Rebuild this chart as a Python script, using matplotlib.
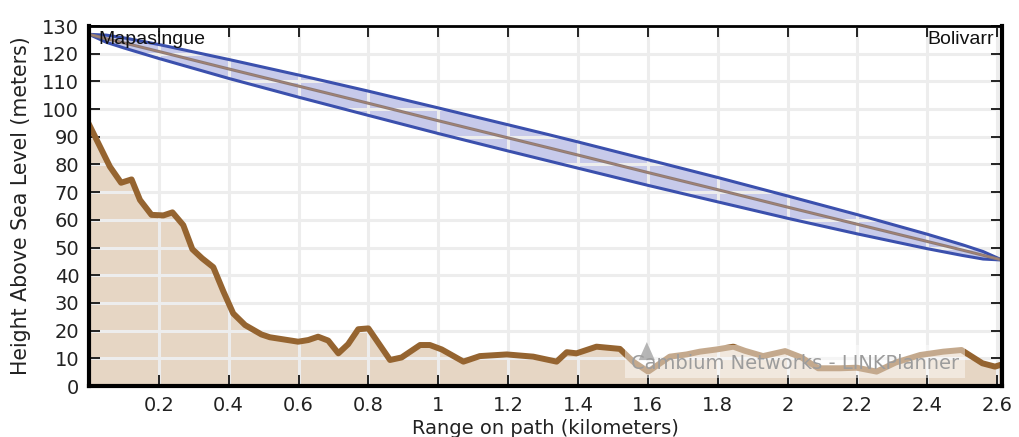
import matplotlib
matplotlib.use("Agg")
import matplotlib.pyplot as plt
from matplotlib.patches import Rectangle, Polygon

# ---- data ----
terrain_km = [0.000, 0.060, 0.092, 0.122, 0.146, 0.179, 0.213, 0.239, 0.270, 0.296,
              0.324, 0.356, 0.385, 0.413, 0.447, 0.494, 0.518, 0.599, 0.628, 0.656,
              0.685, 0.714, 0.742, 0.771, 0.800, 0.862, 0.895, 0.948, 0.976, 1.010,
              1.072, 1.119, 1.196, 1.272, 1.339, 1.368, 1.396, 1.453, 1.520, 1.558,
              1.601, 1.663, 1.711, 1.749, 1.797, 1.845, 1.878, 1.930, 1.993, 2.040,
              2.088, 2.150, 2.198, 2.255, 2.310, 2.380, 2.446, 2.498, 2.558, 2.594,
              2.614]
terrain_m = [94.5, 79.2, 73.4, 74.6, 67.2, 61.8, 61.6, 62.7, 58.1, 49.4,
             46.1, 42.9, 34.1, 26.2, 22.0, 18.6, 17.6, 16.0, 16.6, 17.8,
             16.4, 11.8, 15.1, 20.5, 20.8, 9.4, 10.3, 14.8, 14.8, 13.2,
             8.8, 10.8, 11.4, 10.6, 8.8, 12.2, 11.8, 14.2, 13.4, 8.8,
             5.2, 10.6, 11.4, 12.4, 13.2, 14.2, 12.7, 10.8, 12.6, 10.3,
             6.4, 6.4, 6.6, 5.2, 8.5, 11.2, 12.4, 13.0, 8.2, 7.0,
             7.8]

path_km = [0.0, 0.05, 0.1, 0.2, 0.4, 0.6, 0.8, 1.0, 1.2, 1.307, 1.4, 1.6, 1.8,
           2.0, 2.2, 2.4, 2.5, 2.56, 2.614]
los_m = [127.0, 125.4, 123.9, 120.8, 114.5, 108.3, 102.1, 95.8, 89.6, 86.3, 83.4,
         77.1, 70.9, 64.6, 58.4, 52.2, 49.1, 47.2, 45.5]
fresnel_half_m = [0.0, 1.30, 1.82, 2.52, 3.42, 4.00, 4.38, 4.62, 4.73, 4.75, 4.74,
                  4.63, 4.40, 4.03, 3.47, 2.61, 1.94, 1.35, 0.0]

site_left = "Mapasingue"
site_right = "Bolivarr"
x_ticks = [0.2, 0.4, 0.6, 0.8, 1.0, 1.2, 1.4, 1.6, 1.8, 2.0, 2.2, 2.4, 2.6]
x_ticklabels = ["0.2", "0.4", "0.6", "0.8", "1", "1.2", "1.4", "1.6", "1.8", "2",
                "2.2", "2.4", "2.6"]
y_ticks = list(range(0, 131, 10))

# ---- figure ----
fig = plt.figure(figsize=(10.19, 4.37), dpi=100)
ax = fig.add_axes([0.0873, 0.1167, 0.8960, 0.8238])

x_max = path_km[-1]
ax.set_xlim(0, x_max)
ax.set_ylim(0, 130)

# terrain
ax.fill_between(terrain_km, 0, terrain_m, color="#e6d6c4", zorder=1, linewidth=0)

# fresnel zone
upper = [l + f for l, f in zip(los_m, fresnel_half_m)]
lower = [l - f for l, f in zip(los_m, fresnel_half_m)]
ax.fill_between(path_km, lower, upper, color="#c7caea", zorder=1, linewidth=0)

# grid on top of fills
ax.set_xticks(x_ticks)
ax.set_yticks(y_ticks)
ax.grid(True, color="#ededed", linewidth=2.2, zorder=2)
ax.set_axisbelow(False)
for gl in ax.get_xgridlines() + ax.get_ygridlines():
    gl.set_zorder(2)

ax.plot(terrain_km, terrain_m, color="#956430", linewidth=4.3, zorder=4,
        solid_joinstyle="round")
ax.plot(path_km, upper, color="#3b50ad", linewidth=2.2, zorder=4)
ax.plot(path_km, lower, color="#3b50ad", linewidth=2.2, zorder=4)
ax.plot(path_km, los_m, color="#8d7c78", linewidth=2.2, zorder=4)
ax.plot(path_km, los_m, color="#c58a6a", linewidth=0.5, zorder=4, alpha=0.6)

# watermark
ax.add_patch(Rectangle((0.5870, 0.022), 0.3720, 0.092, transform=ax.transAxes,
                       facecolor="white", alpha=0.45, edgecolor="none", zorder=5))
ax.add_patch(Polygon([(0.6110, 0.122), (0.6022, 0.072), (0.6198, 0.072)],
                     closed=True, transform=ax.transAxes, facecolor="#a9a9a9",
                     edgecolor="none", alpha=0.85, zorder=6))
ax.text(0.5935, 0.062, "Cambium Networks - LINKPlanner", transform=ax.transAxes,
        fontsize=14, color="#9c9c9c", va="center", ha="left", zorder=6)

# site labels
ax.text(0.010, 0.985, site_left, transform=ax.transAxes, fontsize=14,
        family="Liberation Sans", va="top", ha="left", color="#111111", zorder=6)
ax.text(0.991, 0.985, site_right, transform=ax.transAxes, fontsize=14,
        family="Liberation Sans", va="top", ha="right", color="#111111", zorder=6)

# ticks & labels
ax.set_xticklabels(x_ticklabels)
ax.set_yticklabels([str(v) for v in y_ticks])
ax.tick_params(axis="both", direction="in", length=8, width=1.4, color="#222222",
               labelsize=14, labelcolor="#222222", top=True, right=True)
ax.tick_params(axis="x", pad=7)
ax.tick_params(axis="y", pad=7)
ax.set_xlabel("Range on path (kilometers)", fontsize=14, color="#222222", labelpad=3)
ax.set_ylabel("Height Above Sea Level (meters)", fontsize=14.8, color="#222222",
              labelpad=8)

for side, lw in (("left", 3), ("bottom", 3), ("right", 3), ("top", 2)):
    ax.spines[side].set_linewidth(lw)
    ax.spines[side].set_color("black")
    ax.spines[side].set_zorder(7)

fig.savefig("out.png", dpi=100)
